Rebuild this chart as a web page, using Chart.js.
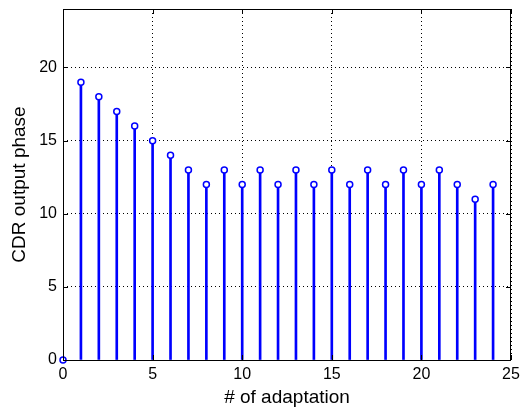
<!DOCTYPE html>
<html><head><meta charset="utf-8">
<script src="https://cdn.jsdelivr.net/npm/chart.js@4/dist/chart.umd.min.js"></script>
<style>html,body{margin:0;padding:0;background:#fff}#wrap{width:520px;height:409px}</style>
</head><body><div id="wrap"><canvas id="c" width="520" height="409"></canvas></div>
<script>
const adaptations = [0,1,2,3,4,5,6,7,8,9,10,11,12,13,14,15,16,17,18,19,20,21,22,23,24];
const phases = [0,19,18,17,16,15,14,13,12,13,12,13,12,13,12,13,12,13,12,13,12,13,12,11,12];
const xTicks = [0,5,10,15,20,25];
const yTicks = [0,5,10,15,20];
const pts = adaptations.map((x,i)=>({x:x,y:phases[i]}));
const FONT = 'Liberation Sans, Arial, Helvetica';
const frame = {
  id:'frame',
  afterDatasetsDraw(chart){
    const {ctx, chartArea:a, scales} = chart;
    ctx.save();
    ctx.strokeStyle='#000'; ctx.lineWidth=1; ctx.setLineDash([]);
    ctx.strokeRect(a.left+0.5,a.top+0.5,a.right-a.left-1,a.bottom-a.top);
    const L=5;
    ctx.beginPath();
    xTicks.forEach(v=>{const p=Math.round(scales.x.getPixelForValue(v))+0.5;
      ctx.moveTo(p,a.bottom);ctx.lineTo(p,a.bottom-L);ctx.moveTo(p,a.top);ctx.lineTo(p,a.top+L);});
    yTicks.forEach(v=>{const p=Math.round(scales.y.getPixelForValue(v))+0.5;
      ctx.moveTo(a.left,p);ctx.lineTo(a.left+L,p);ctx.moveTo(a.right,p);ctx.lineTo(a.right-L,p);});
    ctx.stroke();
    ctx.restore();
  }
};
new Chart(document.getElementById('c'),{
  data:{datasets:[
    {type:'bar',data:pts,backgroundColor:'#0000ff',barThickness:2,borderWidth:0,order:2},
    {type:'scatter',data:pts,pointStyle:'circle',pointRadius:3,pointBorderWidth:1.5,
     pointBorderColor:'#0000ff',pointBackgroundColor:'#ffffff',clip:false,order:1}
  ]},
  options:{
    responsive:false,animation:false,
    layout:{padding:{left:0,right:9,top:9,bottom:0}},
    plugins:{legend:{display:false},tooltip:{enabled:false}},
    scales:{
      x:{type:'linear',min:0,max:25,offset:false,
        afterBuildTicks:s=>{s.ticks=xTicks.map(v=>({value:v}));},
        afterFit:s=>{s.height=49;s.paddingLeft=0;s.paddingRight=0;},
        grid:{color:'#000',lineWidth:1,drawTicks:false,offset:false},
        border:{display:false,dash:[1,3]},
        ticks:{color:'#000',font:{family:FONT,size:16},padding:5,maxRotation:0},
        title:{display:true,text:'# of adaptation',color:'#000',font:{family:FONT,size:19},padding:{top:0,bottom:0}}
      },
      y:{type:'linear',min:0,max:24,
        afterBuildTicks:s=>{s.ticks=yTicks.map(v=>({value:v}));},
        afterFit:s=>{s.width=63;s.paddingTop=0;s.paddingBottom=0;},
        grid:{color:'#000',lineWidth:1,drawTicks:false},
        border:{display:false,dash:[1,3]},
        ticks:{color:'#000',font:{family:FONT,size:16},padding:6},
        title:{display:true,text:'CDR output phase',color:'#000',font:{family:FONT,size:19},padding:{top:8,bottom:0}}
      }
    }
  },
  plugins:[frame]
});
</script></body></html>
